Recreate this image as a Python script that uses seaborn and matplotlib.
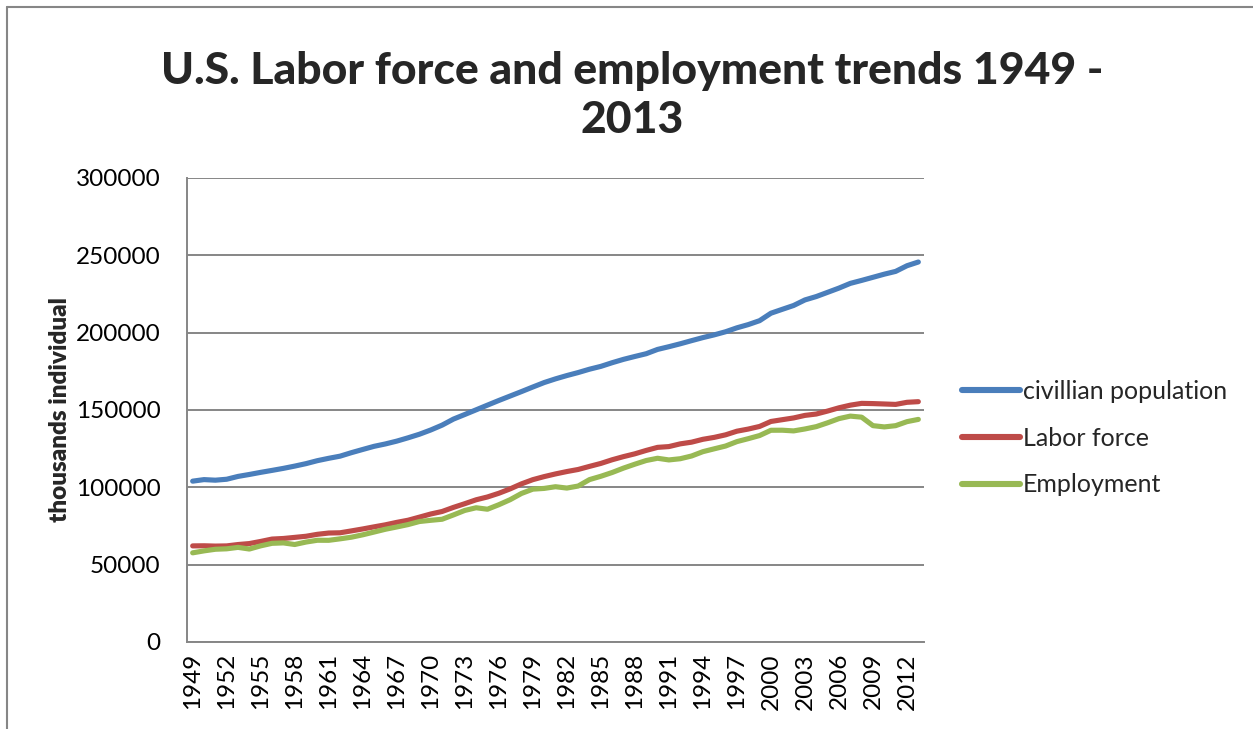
import matplotlib
matplotlib.use("Agg")
import matplotlib.pyplot as plt
import seaborn as sns
import pandas as pd
from matplotlib.lines import Line2D

years = list(range(1949, 2014))

civilian_population = [
    103994, 104995, 104621, 105231, 107056, 108321, 109683, 110954, 112265, 113727,
    115329, 117245, 118771, 120153, 122416, 124485, 126513, 128058, 129874, 132028,
    134335, 137085, 140216, 144126, 147096, 150120, 153153, 156150, 159033, 161910,
    164863, 167745, 170130, 172271, 174215, 176383, 178206, 180587, 182753, 184613,
    186393, 189164, 190925, 192805, 194838, 196814, 198584, 200591, 203133, 205220,
    207753, 212577, 215092, 217570, 221168, 223357, 226082, 228815, 231867, 233788,
    235801, 237830, 239618, 243284, 245679,
]

labor_force = [
    62138, 62208, 62017, 62138, 63015, 63643, 65023, 66552, 66929, 67639,
    68369, 69628, 70459, 70614, 71833, 73091, 74455, 75770, 77347, 78737,
    80734, 82771, 84382, 87034, 89429, 91949, 93775, 96158, 99009, 102251,
    104962, 106940, 108670, 110204, 111550, 113544, 115461, 117834, 119865, 121669,
    123869, 125840, 126346, 128105, 129200, 131056, 132304, 133943, 136297, 137673,
    139368, 142583, 143734, 144863, 146510, 147401, 149320, 151428, 153124, 154287,
    154142, 153889, 153617, 154975, 155389,
]

employment = [
    57651, 58918, 59961, 60250, 61179, 60109, 62170, 63799, 64071, 63036,
    64630, 65778, 65746, 66702, 67762, 69305, 71088, 72895, 74372, 75920,
    77902, 78678, 79367, 82153, 85064, 86794, 85846, 88752, 92017, 96048,
    98824, 99303, 100397, 99526, 100834, 105005, 107150, 109597, 112440, 114968,
    117342, 118793, 117718, 118492, 120259, 123060, 124900, 126708, 129558, 131463,
    133488, 136891, 136933, 136485, 137736, 139252, 141730, 144427, 146047, 145362,
    139877, 139064, 139869, 142469, 143929,
]

series_names = ["civillian population", "Labor force", "Employment"]
tick_years = list(range(1949, 2014, 3))
y_ticks = [0, 50000, 100000, 150000, 200000, 250000, 300000]

title_line1 = "U.S. Labor force and employment trends 1949 -"
title_line2 = "2013"
y_label = "thousands individual"

df = pd.DataFrame({
    "year": years * 3,
    "value": civilian_population + labor_force + employment,
    "series": [series_names[0]] * len(years) + [series_names[1]] * len(years) + [series_names[2]] * len(years),
})

sns.set_style("white")
plt.rcParams["font.family"] = ["Lato", "DejaVu Sans"]

W, H = 1253, 729
fig = plt.figure(figsize=(W / 100, H / 100), dpi=100)
ax = fig.add_axes([187 / W, 1 - 642 / H, (924 - 187) / W, (642 - 178) / H])

palette = {series_names[0]: "#4A7EBB", series_names[1]: "#BE4B48", series_names[2]: "#98B954"}
sns.lineplot(data=df, x="year", y="value", hue="series", palette=palette,
             linewidth=3.7, ax=ax, legend=True, solid_capstyle="round")

ax.get_legend().remove()

grid_color = "#868686"
tick_fs = 17.5
ax.set_xlim(1948.5, 2013.5)
ax.set_ylim(0, 300000)
ax.set_yticks(y_ticks)
ax.set_yticklabels([str(v) for v in y_ticks])
ax.set_xticks(tick_years)
ax.set_xticklabels([str(y) for y in tick_years], rotation=90)
ax.yaxis.grid(True, color=grid_color, linewidth=1.4)
ax.set_axisbelow(True)
for s in ["top", "right"]:
    ax.spines[s].set_visible(False)
for s in ["left", "bottom"]:
    ax.spines[s].set_color(grid_color)
    ax.spines[s].set_linewidth(1.4)
ax.tick_params(axis="both", length=0, labelsize=tick_fs, colors="black")
ax.tick_params(axis="y", pad=19)
ax.tick_params(axis="x", pad=8)
ax.set_xlabel("")
ax.set_ylabel(y_label, fontsize=17.5, fontweight="heavy")
ax.yaxis.set_label_coords(-0.158, 0.5)

title_font = ["Lato", "DejaVu Sans"]
fig.text(632 / W, 1 - 84 / H, title_line1, ha="center", va="baseline",
         fontsize=32, fontweight="black", family=title_font)
fig.text(632 / W, 1 - 133 / H, title_line2, ha="center", va="baseline",
         fontsize=32, fontweight="black", family=title_font)

leg_handles = [Line2D([0], [0], color=palette[n], linewidth=4.4, solid_capstyle="round") for n in series_names]
fig.legend(leg_handles, series_names, loc="center left",
           bbox_to_anchor=(962 / W, 1 - 438 / H), frameon=False,
           fontsize=18, handlelength=2.3, handletextpad=0.12,
           labelspacing=0.95, borderpad=0, borderaxespad=0)

# outer chart border (left and top visible)
fig.add_artist(Line2D([6.5 / W, 6.5 / W], [0, 1 - 6.5 / H], transform=fig.transFigure,
                      color=grid_color, linewidth=1.5))
fig.add_artist(Line2D([6.5 / W, 1], [1 - 6.5 / H, 1 - 6.5 / H], transform=fig.transFigure,
                      color=grid_color, linewidth=1.5))

fig.savefig("out.png", dpi=100)
